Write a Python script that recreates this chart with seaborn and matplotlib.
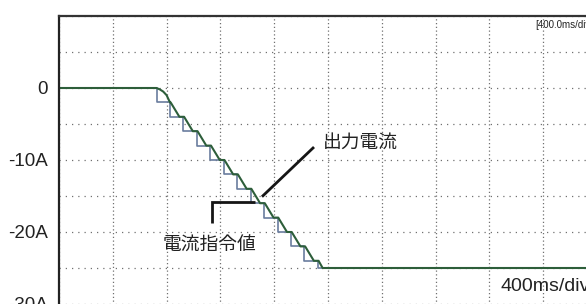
import matplotlib
matplotlib.use("Agg")
import matplotlib.pyplot as plt
import seaborn as sns
import pandas as pd

# ---- data ----
cmd_time_ms = [0, 725, 825, 925, 1025, 1125, 1225, 1325, 1425, 1525, 1625, 1725, 1825, 1925, 4000]
cmd_current_A = [0, -2, -4, -6, -8, -10, -12, -14, -16, -18, -20, -22, -24, -25, -25]

out_time_ms = [0, 725, 750, 775, 800, 825, 830, 895, 930, 995, 1030, 1095, 1130, 1195,
               1230, 1295, 1330, 1395, 1430, 1495, 1530, 1595, 1630, 1695, 1730, 1795,
               1830, 1895, 1930, 1960, 4000]
out_current_A = [0, 0, -0.2, -0.5, -1.0, -2.0, -2.0, -4, -4, -6, -6, -8, -8, -10,
                 -10, -12, -12, -14, -14, -16, -16, -18, -18, -20, -20, -22,
                 -22, -24, -24, -25, -25]

y_ticks = [10, 5, 0, -5, -10, -15, -20, -25, -30, -35]
y_tick_labels = ["", "", "0", "", "-10A", "", "-20A", "", "-30A", ""]
x_ticks = [0, 400, 800, 1200, 1600, 2000, 2400, 2800, 3200, 3600, 4000]

label_output = "出力電流"
label_command = "電流指令値"
label_div = "400ms/div"
label_div_small = "[400.0ms/div]"

cmd_df = pd.DataFrame({"t": cmd_time_ms, "i": cmd_current_A})
out_df = pd.DataFrame({"t": out_time_ms, "i": out_current_A})

# ---- figure ----
sns.set_theme(style="white")
plt.rcParams["font.family"] = ["Liberation Sans", "Noto Sans CJK JP", "DejaVu Sans"]

fig = plt.figure(figsize=(5.86, 3.04), dpi=100)
ax = fig.add_axes([59 / 586, (304 - 347.2) / 304, 538 / 586, 331.2 / 304])

sns.lineplot(data=cmd_df, x="t", y="i", ax=ax, color="#6a7d9e", lw=1.2,
             drawstyle="steps-post", estimator=None, sort=False)
sns.lineplot(data=out_df, x="t", y="i", ax=ax, color="#2d5e3a", lw=1.5,
             estimator=None, sort=False)

ax.set_xlim(0, 4000)
ax.set_ylim(-36, 10)
ax.set_xticks(x_ticks)
ax.set_xticklabels([])
ax.set_yticks(y_ticks)
ax.set_yticklabels(y_tick_labels, fontsize=13.5, color="#222222")
ax.tick_params(axis="both", length=0, pad=8)
ax.set_xlabel("")
ax.set_ylabel("")

ax.xaxis.grid(True, color="#707070", lw=0.9, linestyle=(0, (1, 2)))
ax.yaxis.grid(True, color="#707070", lw=0.9, linestyle=(0, (1, 4)))
ax.set_axisbelow(True)

for side in ("right", "bottom"):
    ax.spines[side].set_visible(False)
ax.spines["top"].set_color("#333333")
ax.spines["top"].set_linewidth(1.6)
ax.spines["left"].set_color("#222222")
ax.spines["left"].set_linewidth(1.6)

# annotation leader lines
ax.plot([1509, 1896], [-15.1, -8.2], color="#151515", lw=2.0, solid_capstyle="butt")
ax.plot([1138, 1138, 1457], [-18.8, -15.9, -15.9], color="#151515", lw=2.0,
        solid_capstyle="butt", solid_joinstyle="miter")

jp = ["Noto Sans CJK JP", "DejaVu Sans"]
ax.text(1965, -7.5, label_output, fontsize=13.5, family=jp, va="center", ha="left", color="#222222")
ax.text(770, -21.8, label_command, fontsize=13.5, family=jp, va="center", ha="left", color="#222222")
ax.text(3283, -27.6, label_div, fontsize=14, va="center", ha="left", color="#222222")
ax.text(3539, 8.7, label_div_small, fontsize=7, va="center", ha="left", color="#222222",
        family=["Liberation Sans Narrow", "Liberation Sans"])

fig.savefig("out.png", dpi=100)
